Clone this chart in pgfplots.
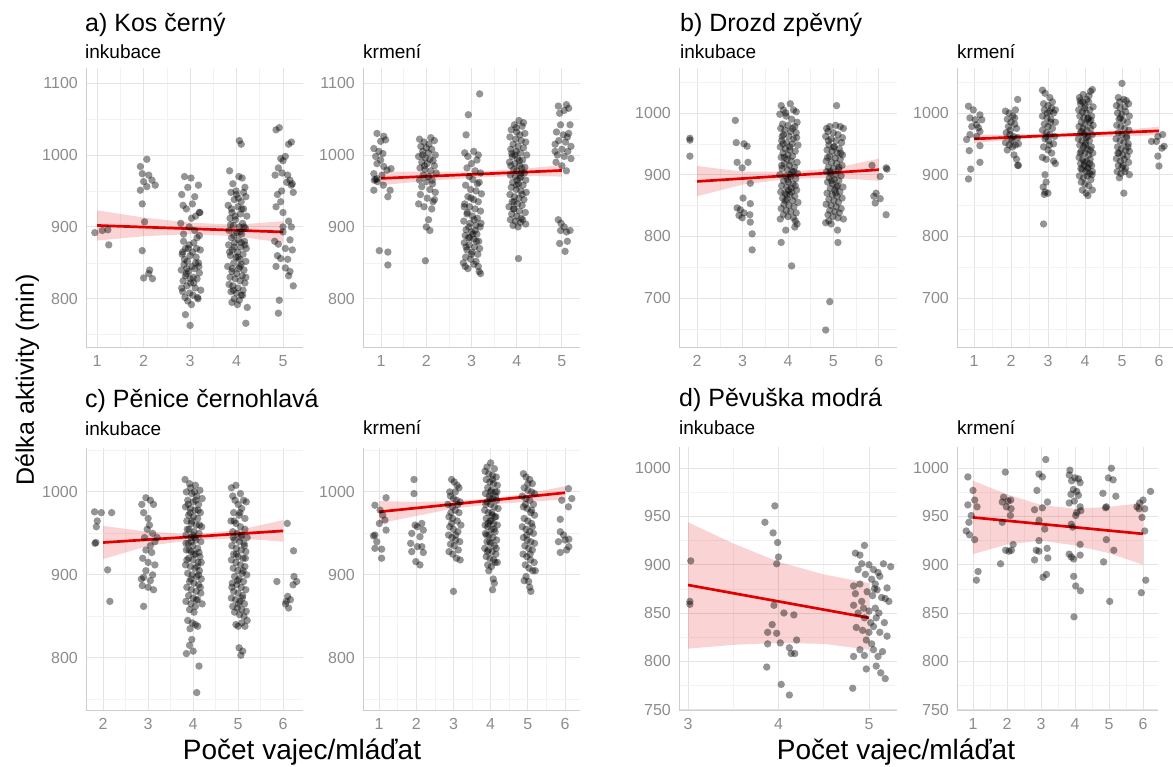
\documentclass[border=0pt]{standalone}
\usepackage{fontspec}
\setmainfont{Liberation Sans}
\usepackage{pgfplots}
\pgfplotsset{compat=1.18}
\definecolor{tickgray}{RGB}{140,140,140}
\definecolor{gridmaj}{RGB}{228,228,228}
\definecolor{gridmin}{RGB}{242,242,242}
\definecolor{axgray}{RGB}{205,205,205}
\definecolor{fitred}{RGB}{225,0,0}
\pgfplotsset{
 panel/.style={scale only axis, anchor=south west, clip=false,
  axis x line*=bottom, axis y line*=left, axis line style={axgray, line width=0.8pt, -},
  major tick length=0pt, minor tick length=0pt,
  grid=both, major grid style={gridmaj, line width=0.9pt}, minor grid style={gridmin, line width=0.6pt},
  tick label style={font=\fontsize{16}{18}\selectfont, text=tickgray},
  /pgf/number format/assume math mode=true, /pgf/number format/1000 sep={},
  scaled ticks=false,
  yticklabel style={anchor=east, inner sep=0pt, xshift=-8pt},
  xticklabel style={anchor=north, inner sep=0pt, yshift=-8pt},
 },
 pts/.style={only marks, mark=*, mark size=3.7pt, draw opacity=0,
   mark options={draw=none, draw opacity=0, line width=0pt, fill=black, fill opacity=0.42}},
 band/.style={draw=none, fill=fitred, fill opacity=0.17, forget plot},
 fit/.style={fitred, line width=2.7pt, no marks},
}
\begin{document}
\begin{tikzpicture}
\path[use as bounding box] (0,0) rectangle (1173pt,767pt);
% ---------------- A1 ----------------
\begin{axis}[panel, at={(86pt,420pt)}, width=217pt, height=279pt,
 xmin=0.76, xmax=5.43, ymin=733, ymax=1121,
 xtick={1,2,3,4,5}, minor xtick={1.5,2.5,3.5,4.5},
 ytick={800,900,1000,1100}, minor ytick={750,850,950,1050}]
\addplot[pts] coordinates {
(0.95,892)(1.11,895)(1.23,896)(1.25,875)
(1.93,984)(2.07,994)(1.97,974)(2.0,963)(2.11,972)(2.18,965)(2.25,958)(1.93,951)(2.07,956)(1.97,932)(2.02,907)(1.97,867)(2.0,829)(2.13,840)(2.19,828)(2.11,835)
(2.82,945)(2.88,970)(3.02,968)(3.18,958)(2.95,955)(3.1,942)(2.85,930)(3.05,932)(3.2,920)(2.92,925)(3.12,915)(2.8,905)(2.98,900)(3.15,885)(2.86,890)(3.08,878)(2.9,870)(3.22,868)(2.83,862)(3.0,860)(3.13,858)(2.94,852)(3.18,850)(2.87,848)(3.04,845)(3.1,842)(2.81,840)(2.97,838)(3.2,836)(2.9,832)(3.07,830)(3.15,828)(2.85,825)(3.01,822)(2.93,818)(3.11,815)(3.23,812)(2.84,810)(2.99,808)(3.06,805)(2.89,802)(3.17,800)(2.95,797)(3.03,792)(2.9,778)(3.0,763)(3.12,850)(2.96,870)(3.2,888)(2.88,855)(3.05,865)(2.92,835)(3.14,870)(3.08,822)(2.82,815)(3.19,845)(2.98,875)(3.1,895)(2.86,880)(3.03,912)(2.93,842)(3.16,802)(3.21,920)(2.84,865)(3.0,828)
(3.85,978)(4.05,970)(4.12,968)(3.92,960)(4.18,955)(3.88,948)(4.0,945)(4.2,942)(3.95,938)(4.1,935)(3.82,930)(4.03,928)(4.15,925)(3.9,920)(4.08,918)(4.22,915)(3.86,912)(3.98,910)(4.13,905)(3.93,902)(4.06,900)(4.19,898)(3.84,895)(4.01,892)(4.11,890)(3.89,885)(4.04,882)(4.17,880)(3.96,878)(3.83,875)(4.09,872)(4.21,870)(3.91,868)(4.02,865)(4.14,862)(3.87,860)(3.99,858)(4.07,855)(4.2,852)(3.94,850)(4.1,848)(3.81,845)(4.05,842)(4.16,840)(3.9,838)(4.0,835)(4.12,832)(3.86,830)(3.97,828)(4.08,825)(4.18,822)(3.92,818)(4.03,815)(4.14,812)(3.88,810)(4.0,808)(4.1,805)(3.95,800)(4.06,798)(3.9,795)(4.02,792)(4.23,788)(4.13,805)(3.97,915)(4.04,940)(3.89,925)(4.16,900)(3.94,888)(4.1,878)(3.85,865)(4.07,845)(4.2,830)(3.93,812)(4.11,925)(3.99,950)(4.06,1020)(4.1,1015)(4.2,766)(3.95,872)(4.15,948)(3.87,903)(4.03,858)(4.18,875)(3.91,842)(4.08,893)(3.84,820)
(4.85,1035)(4.92,1038)(5.12,1015)(5.18,1018)(4.95,995)(5.0,992)(5.05,998)(4.9,982)(5.1,972)(5.15,965)(5.2,960)(4.83,972)(4.98,975)(5.08,962)(5.18,958)(4.88,945)(5.22,948)(4.95,935)(4.85,928)(5.0,920)(5.12,908)(5.18,900)(5.0,900)(4.82,880)(5.15,882)(4.9,876)(5.05,870)(5.2,868)(4.88,860)(4.95,856)(5.1,855)(4.85,845)(5.05,843)(5.15,838)(5.12,832)(5.22,818)(4.92,798)(4.9,780)(5.0,893)(4.97,950)
};
\addplot[band] coordinates {(1,923)(2,913)(3,906)(4,903)(5,908)(5,878)(4,887)(3,890)(2,887)(1,881)};
\addplot[fit] coordinates {(1,902)(5,893)};
\end{axis}
% ---------------- A2 ----------------
\begin{axis}[panel, at={(363pt,420pt)}, width=217pt, height=279pt,
 xmin=0.60, xmax=5.40, ymin=733, ymax=1121,
 xtick={1,2,3,4,5}, minor xtick={1.5,2.5,3.5,4.5},
 ytick={800,900,1000,1100}, minor ytick={750,850,950,1050}]
\addplot[pts] coordinates {
(0.91,1030)(1.06,1026)(0.99,1019)(1.1,1021)(0.84,1009)(0.95,1005)(1.04,1002)(0.88,998)(0.99,993)(0.91,988)(1.06,984)(0.84,974)(1.02,972)(0.91,967)(0.85,965)(1.22,981)(1.13,979)(1.05,958)(0.84,951)(1.2,951)(1.15,942)(0.96,867)(1.15,865)(1.15,847)(0.88,966)(0.92,963)
(1.85,1022)(1.95,1018)(2.1,1024)(2.18,1020)(1.88,1012)(2.0,1010)(2.12,1008)(1.92,1005)(2.05,1003)(2.2,1000)(1.83,998)(1.98,996)(2.08,994)(2.15,992)(1.9,990)(2.02,988)(2.18,985)(1.86,982)(1.97,980)(2.1,978)(2.22,975)(1.93,972)(2.05,970)(1.85,965)(2.0,963)(2.14,960)(1.9,956)(2.08,952)(2.2,948)(1.87,945)(2.02,940)(2.15,935)(1.83,932)(1.95,928)(2.12,925)(2.05,910)(2.0,900)(2.08,895)(1.98,853)(2.18,938)(1.92,1000)(2.06,1015)(1.96,985)(2.13,965)
(3.18,1085)(2.93,1056)(2.88,1028)(2.85,1003)(2.92,998)(3.05,1005)(3.15,1000)(3.12,993)(3.0,988)(2.9,982)(3.08,978)(3.2,975)(2.95,970)(3.03,966)(3.17,962)(2.87,958)(2.98,952)(3.1,950)(3.22,946)(2.92,942)(3.05,938)(3.15,935)(2.85,932)(2.96,928)(3.08,925)(3.2,922)(2.9,918)(3.02,915)(3.13,912)(2.83,908)(2.97,905)(3.1,902)(3.19,900)(2.88,896)(3.0,893)(3.12,890)(2.86,888)(2.93,885)(3.05,883)(3.16,880)(2.84,878)(2.95,875)(3.07,872)(3.18,870)(2.9,868)(3.01,865)(3.14,862)(2.87,858)(2.98,855)(3.1,852)(2.82,850)(3.05,848)(3.15,845)(2.92,842)(3.17,838)(3.2,835)(2.86,845)(3.03,890)(2.94,900)(3.11,880)(2.88,872)(3.0,862)(3.08,895)(2.96,885)(3.21,905)(2.91,920)(3.13,960)(2.99,940)(3.06,910)(2.84,928)
(4.05,1048)(3.95,1042)(4.12,1040)(3.88,1035)(4.0,1032)(4.18,1030)(3.85,1025)(3.98,1022)(4.1,1020)(4.2,1018)(3.92,1015)(4.03,1012)(4.15,1010)(3.87,1008)(3.99,1005)(4.08,1003)(4.22,1000)(3.9,998)(4.02,995)(4.13,993)(3.84,990)(3.96,988)(4.06,985)(4.18,983)(3.93,980)(4.0,978)(4.1,975)(3.86,972)(3.97,970)(4.07,968)(4.2,965)(3.91,962)(4.04,960)(4.14,958)(3.88,955)(3.99,952)(4.09,950)(4.21,948)(3.85,945)(3.95,942)(4.05,940)(4.16,938)(3.9,935)(4.02,932)(4.12,930)(3.83,928)(3.94,925)(4.06,922)(4.19,920)(3.89,918)(4.0,915)(4.1,912)(3.86,910)(3.97,908)(4.08,906)(4.2,904)(3.92,902)(4.03,900)(4.04,856)(4.11,982)(3.96,1000)(4.06,992)(3.89,1002)(4.17,975)(4.01,965)(4.12,945)(3.94,935)(4.07,1028)(3.99,1038)(4.15,1045)(3.87,985)(4.09,970)(4.0,958)(3.93,925)(4.13,910)
(4.92,1068)(5.1,1070)(5.15,1065)(5.05,1062)(4.95,1058)(5.18,1042)(4.97,1042)(4.88,1032)(5.03,1028)(5.12,1025)(4.93,1020)(5.08,1018)(5.2,1012)(4.85,1015)(5.0,1008)(5.13,1005)(4.9,1000)(5.05,998)(5.2,995)(4.87,990)(5.0,985)(5.1,978)(4.92,910)(4.98,905)(5.05,900)(4.97,895)(5.1,893)(5.18,895)(4.95,877)(5.12,880)(5.07,866)(4.85,1005)(5.15,1030)
};
\addplot[band] coordinates {(1,977)(2,977)(3,977)(4,980)(5,986)(5,970)(4,971)(3,968)(2,964)(1,958)};
\addplot[fit] coordinates {(1,967.5)(5,978.5)};
\end{axis}
% ---------------- B1 ----------------
\begin{axis}[panel, at={(679pt,420pt)}, width=218pt, height=279pt,
 xmin=1.6, xmax=6.4, ymin=620.5, ymax=1073,
 xtick={2,3,4,5,6}, minor xtick={2.5,3.5,4.5,5.5},
 ytick={700,800,900,1000}, minor ytick={650,750,850,950,1050}]
\addplot[pts] coordinates {
(1.84,959)(1.84,956)(1.84,930)
(2.84,988)(2.86,952)(3.03,950)(3.1,946)(2.88,920)(2.99,911)(3.12,920)(3.17,886)(3.01,862)(2.88,846)(2.95,843)(3.03,838)(2.92,834)(2.99,830)(3.17,853)(3.16,835)(3.17,823)(3.21,804)(3.21,778)
(3.85,1012)(3.9,1005)(4.05,1015)(4.12,1005)(4.18,1002)(3.82,998)(3.96,995)(4.08,990)(4.2,985)(3.88,982)(4.0,980)(4.15,978)(3.84,975)(3.93,972)(4.06,970)(4.18,968)(3.9,965)(4.02,962)(4.12,958)(3.86,955)(3.97,952)(4.09,950)(4.22,948)(3.83,945)(3.94,942)(4.04,940)(4.16,938)(3.89,935)(4.0,932)(4.1,930)(3.85,928)(3.98,925)(4.07,922)(4.2,920)(3.92,918)(4.03,915)(4.14,912)(3.87,910)(3.99,908)(4.09,905)(4.21,902)(3.82,900)(3.95,898)(4.05,896)(4.17,893)(3.9,890)(4.01,888)(4.11,885)(3.86,882)(3.97,880)(4.07,878)(4.19,875)(3.84,872)(3.93,870)(4.04,868)(4.15,865)(3.88,862)(3.98,860)(4.1,858)(4.22,855)(3.91,852)(4.02,850)(4.13,848)(3.85,845)(3.96,842)(4.06,840)(4.18,838)(3.9,835)(4.0,832)(4.12,830)(4.16,825)(4.2,820)(3.83,828)(4.15,815)(3.95,810)(3.85,790)(4.08,752)(3.95,1000)(4.1,975)(3.87,962)(4.04,945)(3.92,928)(4.13,905)(3.99,892)(4.08,872)(3.86,915)(4.16,882)(3.94,858)(4.01,875)(4.19,960)(3.89,950)(4.06,900)(3.97,868)
(5.07,1012)(4.85,975)(4.92,978)(5.05,980)(5.15,978)(5.22,975)(4.88,970)(5.0,968)(5.1,965)(4.83,962)(4.95,958)(5.06,955)(5.18,952)(4.9,948)(5.02,945)(5.13,942)(4.86,940)(4.97,938)(5.08,935)(5.2,932)(4.92,930)(5.04,927)(5.15,925)(4.84,922)(4.96,920)(5.07,918)(5.19,915)(4.89,912)(5.0,910)(5.11,908)(4.85,905)(4.94,902)(5.05,900)(5.17,898)(4.91,895)(5.02,892)(5.12,890)(4.87,888)(4.98,885)(5.09,882)(5.21,880)(4.93,878)(5.03,875)(5.14,872)(4.86,870)(4.97,868)(5.08,865)(5.19,862)(4.9,860)(5.01,858)(5.11,855)(4.84,852)(4.95,850)(5.06,848)(5.17,845)(4.92,842)(5.03,840)(5.13,838)(4.88,835)(4.99,832)(5.1,830)(5.22,828)(4.9,825)(4.83,822)(4.95,820)(5.09,810)(5.1,790)(4.92,694)(4.83,648)(5.0,945)(5.12,912)(4.96,890)(5.05,870)(4.89,955)(5.16,935)(4.93,905)(5.07,880)(5.2,960)(4.87,928)
(5.85,915)(6.03,897)(6.16,911)(6.18,909)(5.89,865)(5.94,870)(6.03,861)(5.92,854)(6.16,835)
};
\addplot[band] coordinates {(2,914)(3,905)(4,905)(5,910)(6,926)(6,890)(5,895)(4,893)(3,884)(2,865)};
\addplot[fit] coordinates {(2,889)(6,908)};
\end{axis}
% ---------------- B2 ----------------
\begin{axis}[panel, at={(957pt,420pt)}, width=216pt, height=279pt,
 xmin=0.54, xmax=6.38, ymin=620.5, ymax=1073,
 xtick={1,2,3,4,5,6}, minor xtick={1.5,2.5,3.5,4.5,5.5},
 ytick={700,800,900,1000}, minor ytick={650,750,850,950,1050}]
\addplot[pts] coordinates {
(0.85,1011)(0.98,1005)(0.89,992)(1.03,989)(1.16,997)(1.21,989)(1.07,981)(0.94,978)(1.12,976)(1.16,970)(0.8,957)(0.89,965)(1.16,947)(0.87,939)(0.91,909)(0.85,893)(1.16,920)(1.07,962)
(1.85,1003)(1.95,1000)(2.05,995)(2.12,1005)(2.18,1022)(1.9,990)(2.0,985)(2.1,982)(2.15,975)(1.87,968)(1.97,965)(2.07,962)(2.18,960)(1.85,952)(1.95,948)(2.04,945)(2.12,948)(2.2,950)(1.9,940)(2.0,958)(2.08,932)(2.15,925)(2.18,915)(2.2,915)(1.98,972)(2.1,992)(1.93,978)(2.03,955)
(2.85,1037)(2.92,1032)(3.05,1025)(2.88,1015)(3.0,1012)(3.1,1008)(2.9,1005)(3.05,1002)(3.15,1000)(2.85,995)(2.97,992)(3.08,990)(3.2,985)(2.9,982)(3.0,978)(3.12,975)(2.85,972)(2.96,968)(3.05,965)(3.18,962)(2.92,958)(3.02,955)(3.15,950)(2.88,945)(3.0,940)(3.1,935)(2.85,928)(2.95,925)(3.15,922)(3.2,918)(2.92,900)(2.87,880)(2.95,888)(2.92,872)(2.9,868)(3.0,870)(2.88,820)(3.12,1018)(2.98,1000)(3.07,985)(3.2,1005)(2.94,962)(3.04,948)
(3.85,1025)(3.95,1030)(4.05,1022)(4.15,1035)(4.2,1038)(3.88,1015)(4.0,1012)(4.1,1018)(4.22,1010)(3.83,1005)(3.93,1002)(4.03,1000)(4.13,1005)(3.86,995)(3.97,992)(4.07,990)(4.18,995)(3.9,985)(4.0,982)(4.12,985)(4.22,980)(3.84,978)(3.95,975)(4.05,972)(4.15,975)(3.88,968)(3.98,965)(4.08,962)(4.2,965)(3.82,958)(3.92,955)(4.02,952)(4.12,955)(3.86,948)(3.96,945)(4.06,942)(4.17,945)(3.9,938)(4.0,935)(4.1,932)(4.21,935)(3.84,928)(3.94,925)(4.04,922)(4.14,925)(3.88,918)(3.98,915)(4.08,912)(4.18,915)(3.92,908)(4.02,905)(4.12,902)(4.2,905)(3.85,898)(3.96,895)(4.06,898)(4.16,892)(3.9,888)(4.0,885)(4.1,882)(4.2,875)(3.93,875)(4.03,870)(4.08,866)(3.87,1020)(4.11,1028)(3.99,1008)(4.16,988)(3.91,970)(4.04,960)(4.14,940)(3.87,935)(3.98,920)(4.07,910)(4.19,900)(3.94,1018)(4.09,992)(4.01,948)(3.89,910)(4.13,918)
(5.0,1048)(4.9,1025)(5.05,1022)(5.12,1020)(4.85,1012)(4.95,1008)(5.08,1010)(5.18,1015)(4.88,1000)(5.0,998)(5.1,1002)(5.2,995)(4.92,990)(5.03,988)(5.15,985)(4.86,980)(4.97,978)(5.07,975)(5.19,972)(4.9,968)(5.0,965)(5.12,962)(4.84,958)(4.95,955)(5.05,952)(5.17,950)(4.88,945)(4.98,942)(5.1,940)(5.2,938)(4.92,935)(5.02,932)(5.14,930)(4.85,926)(4.96,922)(5.06,925)(5.18,920)(4.9,915)(5.0,912)(5.1,910)(4.87,905)(4.97,902)(5.08,905)(5.2,900)(4.93,895)(5.05,870)(4.96,992)(5.13,960)(4.89,935)(5.03,915)(5.16,945)(4.94,1018)
(5.97,962)(6.1,965)(6.14,946)(5.93,954)(5.97,930)(6.0,914)(5.8,954)(6.08,943)
};
\addplot[band] coordinates {(1,965)(2,965)(3,966)(4,968)(5,972)(6,978)(6,964)(5,962)(4,961)(3,960)(2,957)(1,951)};
\addplot[fit] coordinates {(1,958)(6,971)};
\end{axis}
% ---------------- C1 ----------------
\begin{axis}[panel, at={(86pt,57pt)}, width=217pt, height=262pt,
 xmin=1.62, xmax=6.44, ymin=737, ymax=1053,
 xtick={2,3,4,5,6}, minor xtick={2.5,3.5,4.5,5.5},
 ytick={800,900,1000}, minor ytick={750,850,950,1050}]
\addplot[pts] coordinates {
(1.81,976)(1.87,965)(1.85,958)(1.84,939)(1.82,938)(1.96,975)(2.19,975)(2.1,906)(2.15,868)
(2.86,985)(2.95,993)(3.05,990)(2.9,975)(3.0,968)(3.12,985)(2.98,955)(3.1,950)(3.15,940)(2.92,945)(3.05,935)(3.08,927)(2.88,920)(3.0,915)(3.15,912)(2.95,905)(3.1,900)(2.9,897)(3.05,893)(2.87,887)(3.0,885)(3.12,882)(2.9,862)(2.95,930)(3.2,945)(3.03,960)(2.85,895)
(3.82,1015)(3.92,1010)(4.05,1008)(4.15,1002)(3.85,1000)(3.97,998)(4.08,995)(4.2,992)(3.88,990)(4.0,988)(4.12,985)(3.83,982)(3.94,980)(4.04,978)(4.16,975)(3.9,972)(4.01,970)(4.1,968)(3.86,965)(3.96,962)(4.07,960)(4.19,958)(3.91,955)(4.02,952)(4.13,950)(3.84,948)(3.95,945)(4.06,942)(4.17,940)(3.89,938)(3.99,935)(4.1,932)(3.85,930)(3.96,928)(4.05,925)(4.15,922)(3.9,920)(4.0,918)(4.11,915)(3.83,912)(3.94,910)(4.04,908)(4.14,905)(3.88,902)(3.98,900)(4.08,898)(4.18,895)(3.92,892)(4.02,890)(4.12,888)(3.86,885)(3.96,882)(4.07,880)(4.17,878)(3.9,875)(4.0,872)(4.1,870)(3.84,868)(3.95,865)(4.05,862)(4.2,865)(3.92,858)(4.02,855)(3.88,845)(3.98,842)(4.05,840)(4.1,838)(3.93,835)(3.97,822)(3.92,815)(3.85,805)(4.0,808)(4.13,790)(4.08,758)(4.12,900)(3.87,955)(4.03,1000)(3.93,975)(4.14,960)(3.99,948)(3.86,918)(4.09,910)(3.95,895)(4.16,885)(3.91,930)(4.04,945)(3.97,965)(4.11,978)(3.89,985)(4.07,870)(4.01,925)(3.84,938)(4.18,915)(3.94,1005)(4.06,990)(3.96,940)(4.13,927)
(4.85,1005)(4.95,1008)(5.05,998)(5.12,990)(4.88,995)(5.0,985)(5.08,980)(5.18,988)(4.9,975)(5.02,972)(5.15,968)(4.84,965)(4.95,962)(5.05,958)(5.15,955)(4.88,952)(4.98,950)(5.08,948)(5.2,945)(4.92,942)(5.03,940)(5.13,938)(4.86,935)(4.96,932)(5.07,930)(5.17,928)(4.9,925)(5.0,922)(5.11,920)(4.85,918)(4.95,915)(5.05,912)(5.15,910)(4.89,908)(4.99,905)(5.09,902)(5.19,900)(4.92,898)(5.02,895)(5.12,892)(4.87,890)(4.97,888)(5.07,885)(5.17,882)(4.9,880)(5.0,878)(5.1,875)(4.85,872)(4.94,870)(5.04,868)(5.14,865)(4.88,862)(4.98,860)(5.08,858)(5.18,856)(4.92,855)(5.03,852)(5.13,850)(5.2,845)(5.08,842)(5.0,838)(5.15,838)(4.95,840)(5.02,812)(5.1,808)(5.06,803)(4.91,965)(5.06,945)(4.96,925)(5.11,905)(4.86,885)(5.01,865)(5.16,920)(4.93,990)(5.04,975)(5.14,935)(4.89,945)(4.99,893)(5.09,872)
(5.86,892)(6.09,962)(6.23,929)(6.24,898)(6.3,892)(6.22,888)(6.1,874)(6.16,870)(6.07,868)(6.05,865)(6.12,860)
};
\addplot[band] coordinates {(2,959)(3,952)(4,949)(5,954)(6,966)(6,940)(5,944)(4,942)(3,935)(2,919)};
\addplot[fit] coordinates {(2,939)(6,953)};
\end{axis}
% ---------------- C2 ----------------
\begin{axis}[panel, at={(363pt,57pt)}, width=217pt, height=262pt,
 xmin=0.57, xmax=6.4, ymin=737, ymax=1053,
 xtick={1,2,3,4,5,6}, minor xtick={1.5,2.5,3.5,4.5,5.5},
 ytick={800,900,1000}, minor ytick={750,850,950,1050}]
\addplot[pts] coordinates {
(0.89,984)(1.03,978)(1.19,993)(1.1,972)(1.16,966)(1.01,962)(0.89,948)(1.19,954)(0.85,947)(0.94,940)(0.89,932)(1.07,931)(1.07,920)
(1.94,1015)(1.94,998)(1.97,960)(1.88,950)(2.03,958)(2.15,962)(2.1,946)(2.19,954)(1.85,938)(2.03,934)(2.15,934)(1.88,928)(2.19,927)(1.99,916)(2.1,912)
(2.9,1000)(2.95,1015)(3.02,1012)(3.1,1008)(3.15,1005)(2.92,995)(3.0,992)(3.08,990)(3.18,988)(2.85,985)(2.97,982)(3.05,978)(3.15,975)(2.88,970)(2.98,968)(3.1,965)(3.2,960)(2.9,958)(3.0,955)(3.12,952)(2.87,948)(2.96,945)(3.06,942)(3.17,940)(2.92,937)(3.02,935)(3.13,930)(2.88,928)(2.98,925)(3.08,920)(3.18,918)(2.95,962)(3.05,1000)(3.12,985)(3.0,880)(3.06,948)(2.93,975)
(3.9,1030)(4.0,1035)(4.1,1028)(3.85,1025)(3.95,1022)(4.05,1020)(4.15,1018)(3.88,1015)(3.98,1012)(4.08,1010)(4.18,1008)(3.92,1005)(4.02,1002)(4.12,1000)(3.86,998)(3.96,995)(4.06,992)(4.16,990)(3.9,988)(4.0,985)(4.1,982)(4.2,980)(3.84,978)(3.94,975)(4.04,972)(4.14,970)(3.88,968)(3.98,965)(4.08,962)(4.18,960)(3.92,958)(4.02,955)(4.12,952)(3.86,950)(3.96,948)(4.06,945)(4.16,942)(3.9,940)(4.0,938)(4.1,935)(3.84,932)(3.94,930)(4.04,928)(4.14,925)(3.88,922)(3.98,920)(4.08,918)(4.18,915)(3.92,912)(4.02,910)(4.12,915)(3.95,905)(4.07,895)(4.1,890)(4.05,882)(4.0,1000)(4.13,995)(3.87,985)(4.03,975)(3.93,962)(4.09,955)(3.97,940)(4.15,932)(3.89,948)(4.05,1015)(3.99,992)(4.11,970)(3.91,928)(4.01,965)(4.17,1000)(3.85,960)
(4.88,1022)(4.95,1018)(5.05,1015)(5.12,1010)(4.9,1005)(5.0,1002)(5.1,1000)(5.18,998)(4.85,995)(4.95,992)(5.05,990)(5.15,985)(4.88,982)(4.98,980)(5.08,975)(5.18,972)(4.9,968)(5.0,965)(5.1,962)(4.85,958)(4.95,955)(5.05,952)(5.15,950)(4.88,945)(4.98,942)(5.08,940)(5.18,938)(4.92,935)(5.02,932)(5.12,930)(4.87,925)(4.97,922)(5.07,918)(5.17,915)(4.93,912)(5.03,908)(5.13,905)(5.2,905)(4.95,898)(5.02,892)(5.05,885)(5.08,880)(4.9,893)(5.0,1010)(5.1,978)(4.93,985)(5.12,958)(4.97,948)(5.06,925)
(6.09,1004)(6.18,992)(5.91,990)(6.09,982)(5.87,967)(5.87,952)(5.96,948)(5.82,940)(6.0,942)(6.1,934)(5.87,927)(6.04,930)(6.1,943)
};
\addplot[band] coordinates {(1,989)(2,988)(3,989)(4,992)(5,998)(6,1007)(6,991)(5,988)(4,985)(3,980)(2,971)(1,962)};
\addplot[fit] coordinates {(1,976)(6,999)};
\end{axis}
% ---------------- D1 ----------------
\begin{axis}[panel, at={(679pt,57pt)}, width=218pt, height=263pt,
 xmin=2.9, xmax=5.31, ymin=749.5, ymax=1022,
 xtick={3,4,5}, minor xtick={3.5,4.5},
 ytick={750,800,850,900,950,1000}, minor ytick={775,825,875,925,975}]
\addplot[pts] coordinates {
(3.03,904)(3.02,862)(3.02,859)
(3.96,961)(3.85,944)(3.94,933)(3.99,923)(4.0,908)(3.98,901)(3.95,858)(4.06,850)(4.17,848)(3.93,838)(3.88,830)(3.98,829)(3.88,818)(4.02,819)(4.12,814)(4.14,808)(4.18,808)(4.2,822)(3.87,794)(4.03,776)(4.12,765)
(4.95,920)(4.85,912)(4.9,910)(5.0,900)(4.92,901)(4.96,890)(4.88,895)(5.05,895)(5.1,892)(5.16,901)(4.9,880)(4.83,878)(5.03,885)(5.07,880)(5.12,888)(5.2,876)(4.85,870)(4.98,872)(5.04,868)(5.09,874)(5.14,866)(4.83,858)(4.92,862)(5.0,852)(5.07,855)(5.18,865)(4.88,850)(4.95,845)(5.02,840)(5.11,850)(5.17,840)(4.86,835)(4.93,832)(5.05,836)(5.12,830)(5.2,826)(4.97,822)(5.03,818)(4.9,812)(5.05,812)(5.1,805)(4.95,806)(5.08,795)(4.97,792)(5.13,788)(5.18,782)(4.83,805)(4.82,772)(5.0,830)(5.08,845)(5.22,862)(5.15,810)(4.94,855)(5.06,875)(5.24,898)
};
\addplot[band] coordinates {(3,944)(3.5,922)(4,903)(4.5,890)(5,881)(5,812)(4.5,818)(4,819)(3.5,817)(3,813)};
\addplot[fit] coordinates {(3,879)(5,845)};
\end{axis}
% ---------------- D2 ----------------
\begin{axis}[panel, at={(957pt,57pt)}, width=201pt, height=263pt,
 xmin=0.53, xmax=6.44, ymin=749.5, ymax=1022,
 xtick={1,2,3,4,5,6}, minor xtick={1.5,2.5,3.5,4.5,5.5},
 ytick={750,800,850,900,950,1000}, minor ytick={775,825,875,925,975}]
\addplot[pts] coordinates {
(0.85,991)(1.0,977)(1.05,967)(0.85,962)(1.12,960)(0.95,951)(0.88,944)(0.8,935)(0.9,931)(1.05,926)(1.15,893)(1.1,884)
(1.95,996)(1.9,970)(2.03,966)(1.86,965)(2.11,967)(1.98,960)(2.12,958)(1.86,944)(2.1,951)(1.96,915)(2.06,914)(2.13,915)(2.18,921)(1.81,901)
(3.14,1009)(2.94,994)(3.04,991)(2.88,977)(3.19,965)(3.04,959)(2.81,957)(2.94,946)(3.11,937)(2.94,925)(2.86,915)(2.94,914)(3.18,917)(3.2,907)(2.81,905)(3.06,887)(3.16,890)
(3.85,998)(3.83,993)(3.9,987)(4.0,990)(4.1,989)(4.15,985)(3.95,978)(4.05,976)(3.88,973)(4.1,972)(3.98,966)(3.83,964)(4.15,960)(4.05,954)(4.17,956)(3.89,942)(3.93,939)(4.02,951)(3.83,911)(3.89,908)(3.96,906)(4.15,910)(4.15,921)(3.96,888)(4.02,878)(4.16,873)(3.97,846)
(5.07,1000)(4.98,990)(5.12,988)(5.2,971)(4.82,974)(4.92,960)(4.9,959)(4.92,926)(4.84,903)(5.14,915)(5.02,862)
(5.82,960)(5.9,964)(6.0,967)(5.88,958)(5.97,949)(6.05,935)(6.22,976)(6.08,884)(5.95,871)(6.05,958)
};
\addplot[band] coordinates {(1,987)(2,973)(3,962)(4,958)(5,960)(6,964)(6,900)(5,912)(4,920)(3,925)(2,921)(1,911)};
\addplot[fit] coordinates {(1,949)(6,932)};
\end{axis}
% ---------------- texts ----------------
\begin{scope}[every node/.style={inner sep=0pt}]
\node[anchor=base west] at (85pt,735pt) {\fontsize{25}{30}\selectfont a) Kos černý};
\node[anchor=base west] at (680pt,735pt) {\fontsize{25}{30}\selectfont b) Drozd zpěvný};
\node[anchor=base west] at (85pt,359pt) {\fontsize{25}{30}\selectfont c) Pěnice černohlavá};
\node[anchor=base west] at (679pt,360pt) {\fontsize{25}{30}\selectfont d) Pěvuška modrá};
\node[anchor=base west] at (85pt,708pt) {\fontsize{19}{22}\selectfont inkubace};
\node[anchor=base west] at (363pt,708pt) {\fontsize{19}{22}\selectfont krmení};
\node[anchor=base west] at (680pt,708pt) {\fontsize{19}{22}\selectfont inkubace};
\node[anchor=base west] at (957pt,708pt) {\fontsize{19}{22}\selectfont krmení};
\node[anchor=base west] at (85pt,331pt) {\fontsize{19}{22}\selectfont inkubace};
\node[anchor=base west] at (363pt,332pt) {\fontsize{19}{22}\selectfont krmení};
\node[anchor=base west] at (679pt,332pt) {\fontsize{19}{22}\selectfont inkubace};
\node[anchor=base west] at (957pt,332pt) {\fontsize{19}{22}\selectfont krmení};
\node[rotate=90, anchor=base] at (34pt,387pt) {\fontsize{25}{30}\selectfont Délka aktivity (min)};
\node[anchor=base] at (302pt,7pt) {\fontsize{28}{33}\selectfont Počet vajec/mláďat};
\node[anchor=base] at (896pt,7pt) {\fontsize{28}{33}\selectfont Počet vajec/mláďat};
\end{scope}
\end{tikzpicture}
\end{document}
